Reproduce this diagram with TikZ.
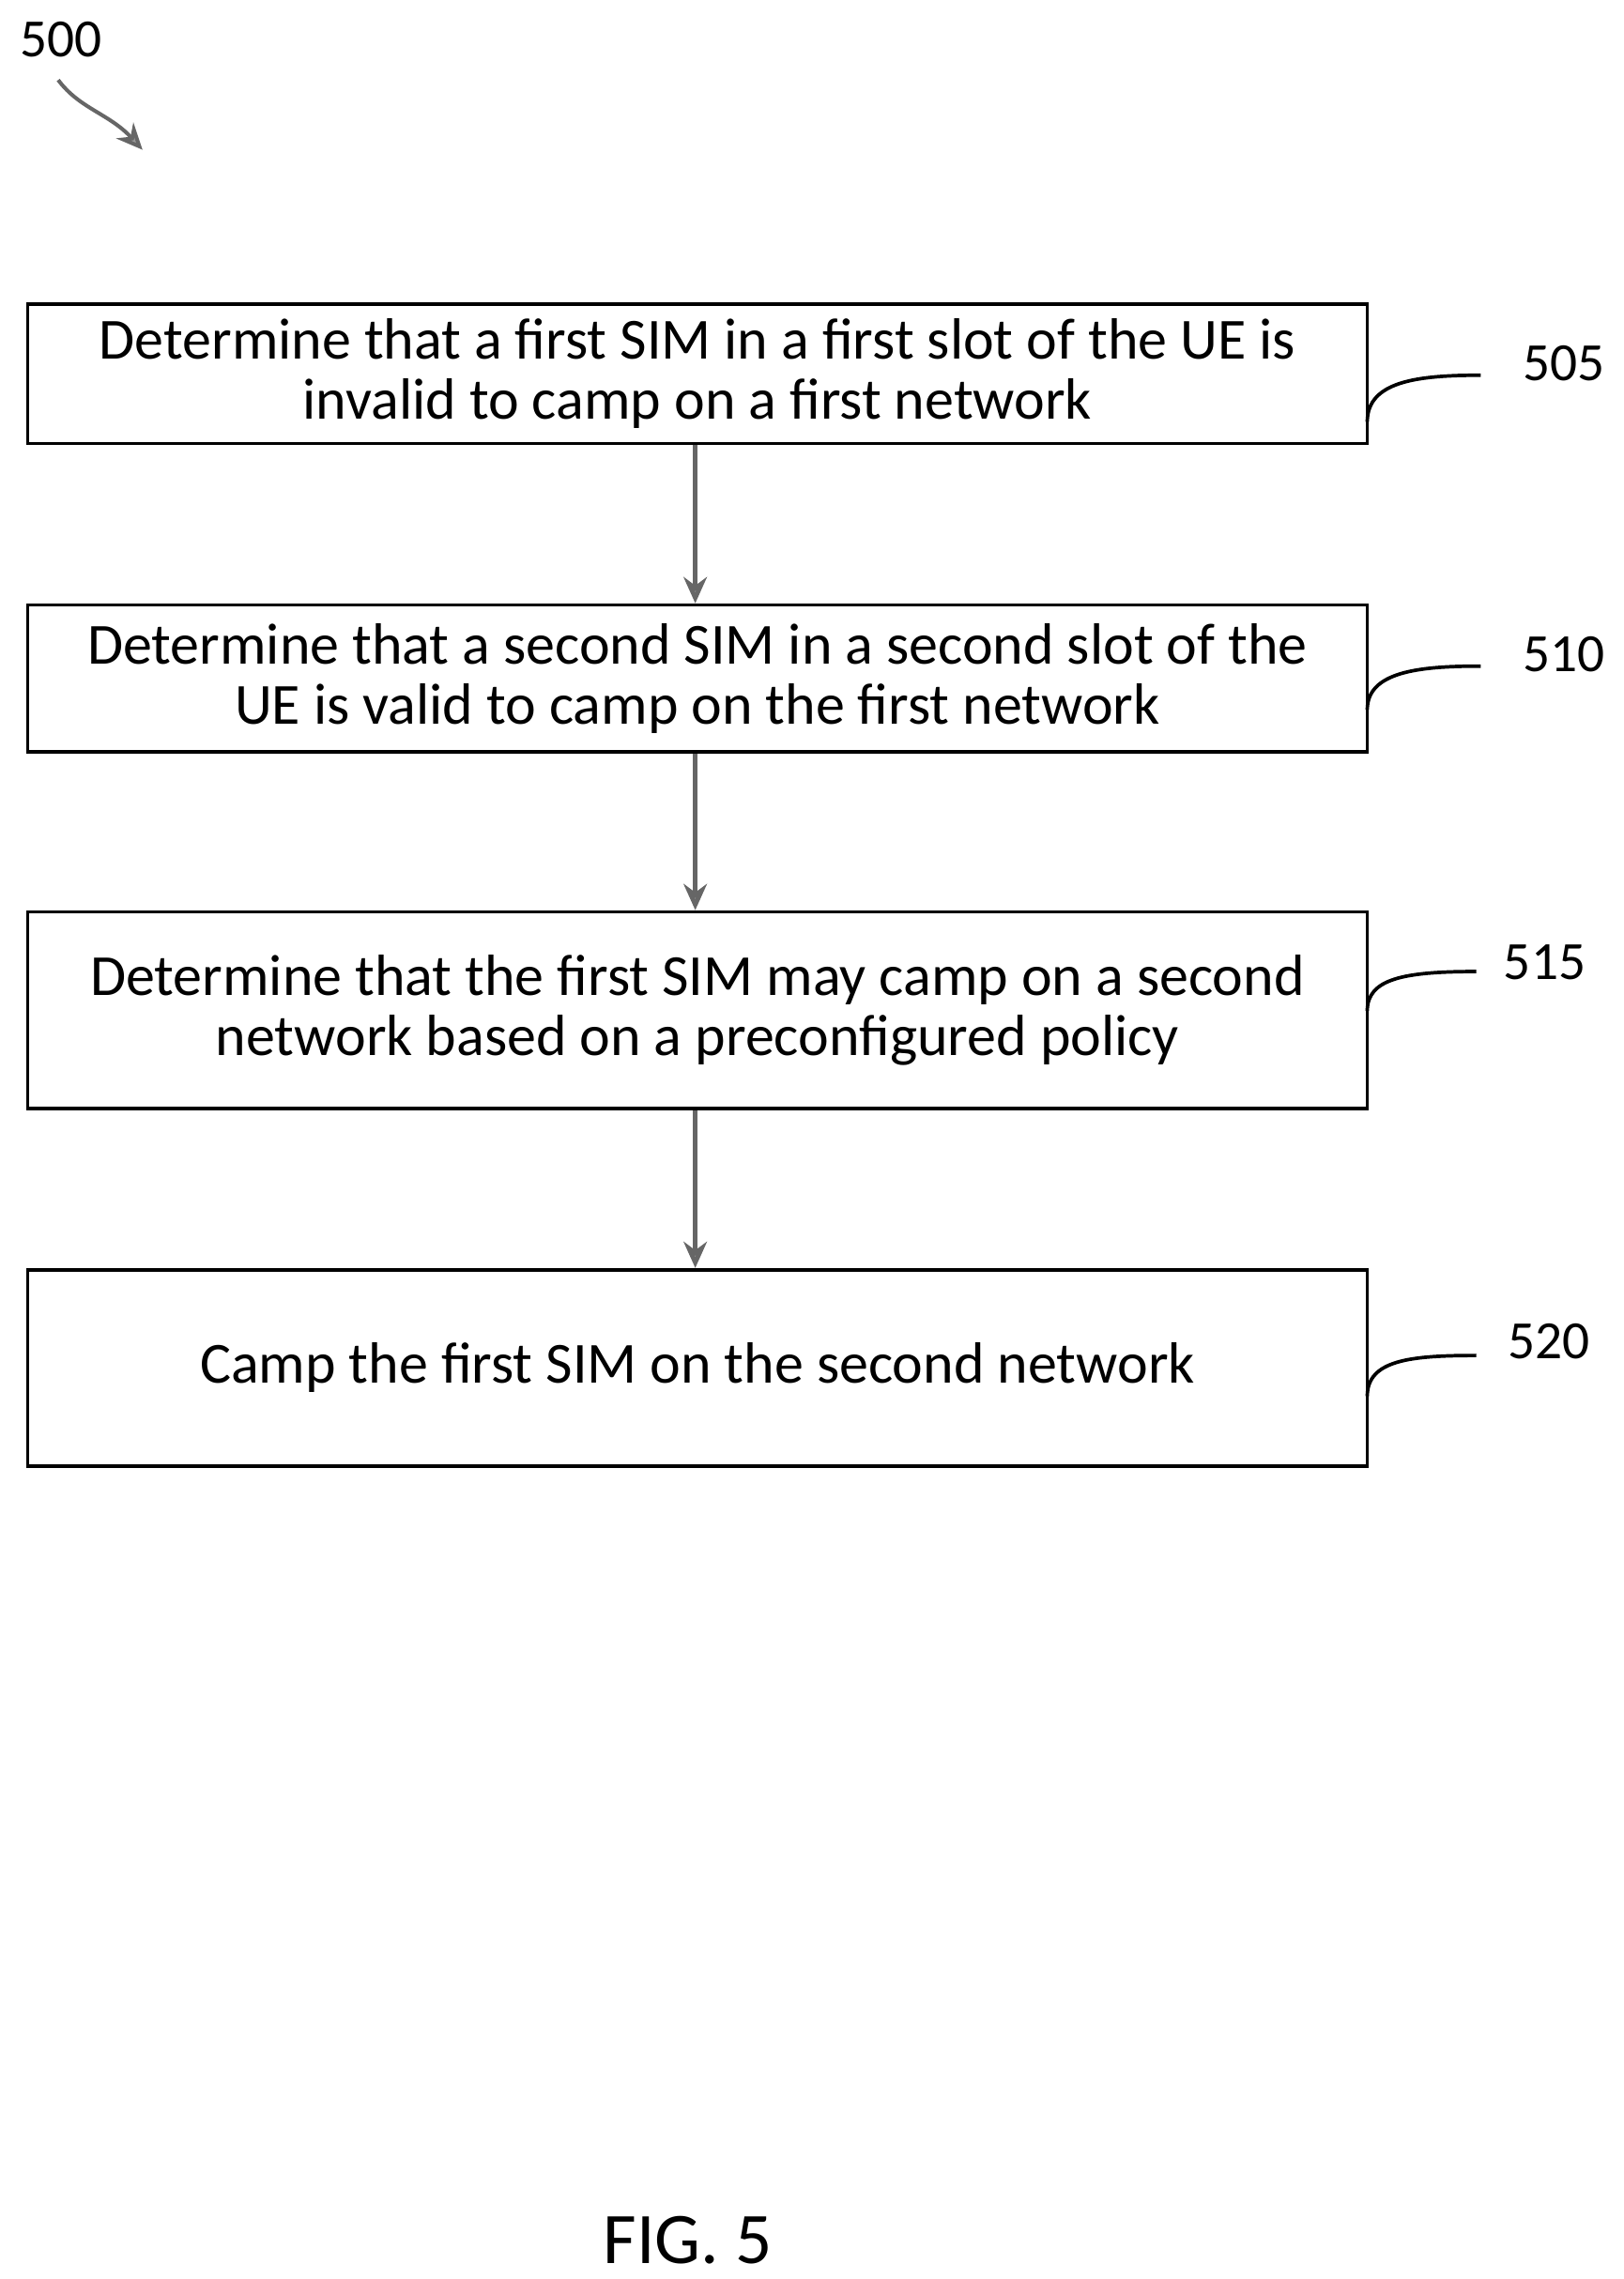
\documentclass[tikz,border=0pt]{standalone}
\usepackage{fontspec}
\setmainfont{Carlito}
\usetikzlibrary{arrows.meta}
\begin{document}
\begin{tikzpicture}[x=0.5pt,y=-0.5pt,
  box/.style={draw,line width=1.2pt,inner sep=0pt,align=center,font=\fontsize{20}{20.5}\selectfont},
  flow/.style={draw=black!60,line width=1.5pt,-{Stealth[length=9pt,width=8pt,fill=black!40]}},
  lead/.style={line width=1.2pt},
  lbl/.style={font=\fontsize{18.5}{20}\selectfont}]
\useasboundingbox (0,0) rectangle (1116,1567);
\node[box,minimum width=460.5pt,minimum height=48pt] (b1) at (479.5,257) {Determine that a first SIM in a first slot of the UE is\\invalid to camp on a first network};
\node[box,minimum width=460.5pt,minimum height=50.5pt] (b2) at (479.5,466.5) {Determine that a second SIM in a second slot of the\\UE is valid to camp on the first network};
\node[box,minimum width=460.5pt,minimum height=67.5pt] (b3) at (479.5,694.5) {Determine that the first SIM may camp on a second\\network based on a preconfigured policy};
\node[box,minimum width=460.5pt,minimum height=67.5pt] (b4) at (479.5,940.5) {Camp the first SIM on the second network};
\draw[flow] (b1.south-|478,0) -- (b2.north-|478,0);
\draw[flow] (b2.south-|478,0) -- (b3.north-|478,0);
\draw[flow] (b3.south-|478,0) -- (b4.north-|478,0);
\node[lbl] (l1) at (1075,250) {505};
\node[lbl] (l2) at (1075,450) {510};
\node[lbl] (l3) at (1062,662) {515};
\node[lbl] (l4) at (1065,922) {520};
\draw[lead] (940,290) .. controls (940,262) and (975,258) .. (1018,258);
\draw[lead] (940,488) .. controls (940,462) and (975,458) .. (1018,458);
\draw[lead] (940,695) .. controls (940,673) and (965,668) .. (1015,668);
\draw[lead] (940,960) .. controls (940,935) and (970,932) .. (1015,932);
\node[lbl] (n500) at (42,27) {500};
\draw[black!60,line width=1.3pt,-{Stealth[length=9pt,width=8pt,fill=black!40]}] (40,55) .. controls (55,75) and (75,78) .. (98,103);
\node[font=\fontsize{25}{28}\selectfont] (fig) at (473,1540) {FIG. 5};
\end{tikzpicture}
\end{document}
